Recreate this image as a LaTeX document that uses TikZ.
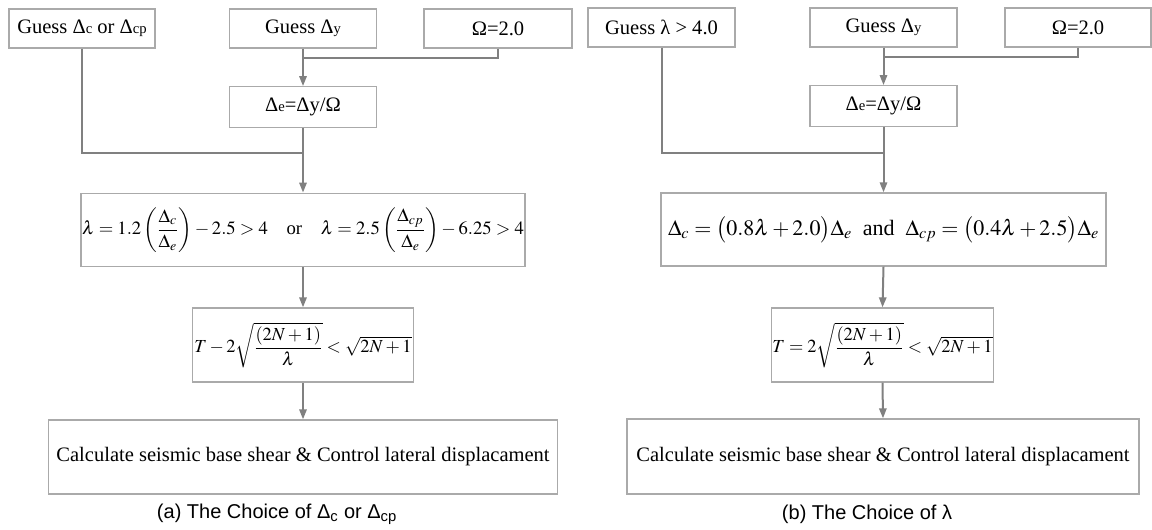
\documentclass[tikz,border=0pt]{standalone}
\usepackage{amsmath}
\usepackage{mathptmx}
\usepackage[no-math]{fontspec}
\setmainfont{Liberation Serif}
\newfontfamily\capfont{Liberation Sans}
\usetikzlibrary{arrows.meta}
\definecolor{linegray}{RGB}{128,128,128}
\definecolor{boxgray}{RGB}{170,170,170}
\newcommand\fs{\fontsize{15.4}{18}\selectfont}
\newcommand\lo[1]{{\fontsize{11}{11}\selectfont #1}}
\tikzset{
  box/.style={draw=boxgray, line width=1pt, fill=white, inner sep=0pt, font=\fs, align=center},
  conn/.style={draw=linegray, line width=1.5pt},
  arr/.style={conn, -{Triangle[length=7.5pt,width=5.5pt]}},
  captext/.style={font=\capfont\fontsize{15}{18}\selectfont, inner sep=0pt}
}
\begin{document}
\begin{tikzpicture}[x=0.75pt,y=-0.75pt]
\useasboundingbox (0,0) rectangle (1152,529);
% ---------- left panel ----------
\node[box, minimum width=146*0.75pt, minimum height=39*0.75pt] (gc) at (82,28.5) {Guess Δ\lo{c} or Δ\lo{cp}};
\node[box, minimum width=147*0.75pt, minimum height=39*0.75pt] (gy) at (303,28.5) {Guess Δ\lo{y}};
\node[box, minimum width=148*0.75pt, minimum height=39*0.75pt] (om) at (498,28.5) {Ω=2.0};
\node[box, minimum width=147*0.75pt, minimum height=40.5*0.75pt] (de) at (303,107) {Δ\lo{e}=Δy/Ω};
\node[box, minimum width=444*0.75pt, minimum height=73.5*0.75pt, font=\fontsize{14}{17}\selectfont] (lam) at (303,230)
  {$\lambda = 1.2\left(\dfrac{\Delta_c}{\Delta_e}\right) - 2.5 > 4$\quad or\quad $\lambda = 2.5\left(\dfrac{\Delta_{cp}}{\Delta_e}\right) - 6.25 > 4$};
\node[box, minimum width=220.5*0.75pt, minimum height=74*0.75pt, font=\fontsize{13.8}{17}\selectfont] (tt) at (303,345)
  {$T - 2\sqrt{\dfrac{(2N+1)}{\lambda}} < \sqrt{2N+1}$};
\node[box, minimum width=509*0.75pt, minimum height=74*0.75pt] (calc) at (303,457)
  {Calculate seismic base shear \& Control lateral displacament};
\coordinate (j1) at (303,58);
\coordinate (j2) at (303,153);
\draw[conn] (om.south) |- (j1);
\draw[arr] (gy.south) -- (de.north);
\draw[conn] (gc.south) |- (j2);
\draw[arr] (de.south) -- (lam.north);
\draw[arr] (lam.south) -- (tt.north);
\draw[arr] (tt.south) -- (calc.north);
\node[captext] (capa) at (277,514) {(a) The Choice of Δ\textsubscript{c} or Δ\textsubscript{cp}};
% ---------- right panel ----------
\node[box, minimum width=147*0.75pt, minimum height=39*0.75pt] (gl) at (661.5,27.5) {Guess λ > 4.0};
\node[box, minimum width=147*0.75pt, minimum height=39*0.75pt] (gy2) at (883.5,27.5) {Guess Δ\lo{y}};
\node[box, minimum width=146*0.75pt, minimum height=39*0.75pt] (om2) at (1078,27.5) {Ω=2.0};
\node[box, minimum width=147*0.75pt, minimum height=40.5*0.75pt] (de2) at (883.5,106) {Δ\lo{e}=Δy/Ω};
\node[box, minimum width=445*0.75pt, minimum height=73*0.75pt, font=\fontsize{16.5}{19}\selectfont] (lam2) at (883.5,229.5)
  {$\Delta_c = \bigl(0.8\lambda + 2.0\bigr)\Delta_e$\ \ and\ \ $\Delta_{cp} = \bigl(0.4\lambda + 2.5\bigr)\Delta_e$};
\node[box, minimum width=221.5*0.75pt, minimum height=74*0.75pt, font=\fontsize{13.8}{17}\selectfont] (tt2) at (882.5,345)
  {$T = 2\sqrt{\dfrac{(2N+1)}{\lambda}} < \sqrt{2N+1}$};
\node[box, minimum width=512*0.75pt, minimum height=75*0.75pt] (calc2) at (883,456.5)
  {Calculate seismic base shear \& Control lateral displacament};
\coordinate (k1) at (883.5,57);
\coordinate (k2) at (883.5,152.5);
\draw[conn] (om2.south) |- (k1);
\draw[arr] (gy2.south) -- (de2.north);
\draw[conn] (gl.south) |- (k2);
\draw[arr] (de2.south) -- (lam2.north);
\draw[arr] (lam2.south) -- (tt2.north);
\draw[arr] (tt2.south) -- (calc2.north);
\node[captext] (capb) at (867,514) {(b) The Choice of λ};
\end{tikzpicture}
\end{document}
